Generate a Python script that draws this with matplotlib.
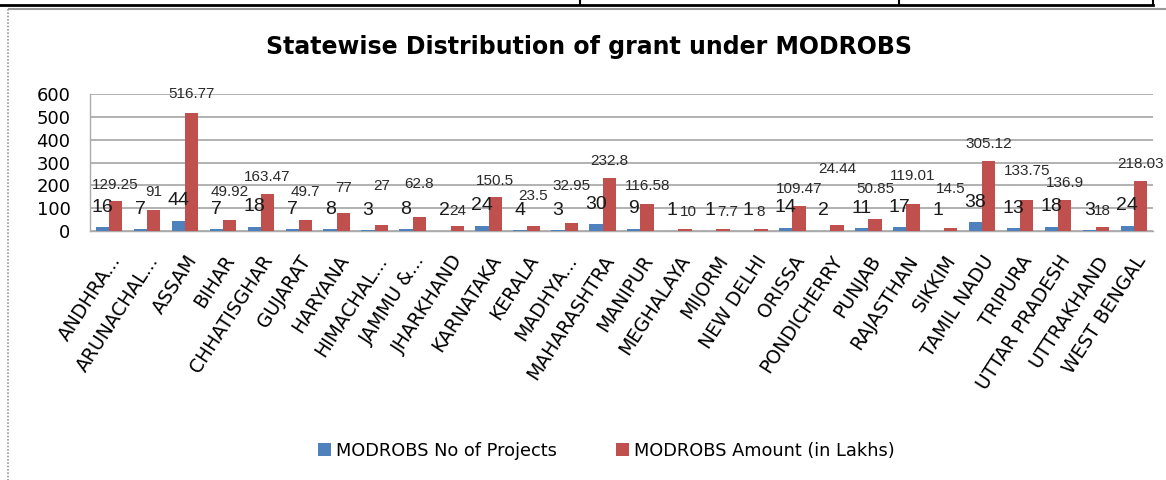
#!/usr/bin/env python

""" statewise distribution of grant under MODROBS """

import matplotlib
matplotlib.use("Agg")
import matplotlib.pyplot as plt
from matplotlib.lines import Line2D
import numpy as np

states = ["ANDHRA...", "ARUNACHAL...", "ASSAM", "BIHAR", "CHHATISGHAR", "GUJARAT",
          "HARYANA", "HIMACHAL...", "JAMMU &...", "JHARKHAND", "KARNATAKA", "KERALA",
          "MADHYA...", "MAHARASHTRA", "MANIPUR", "MEGHALAYA", "MIJORM", "NEW DELHI",
          "ORISSA", "PONDICHERRY", "PUNJAB", "RAJASTHAN", "SIKKIM", "TAMIL NADU",
          "TRIPURA", "UTTAR PRADESH", "UTTRAKHAND", "WEST BENGAL"]
projects = [16, 7, 44, 7, 18, 7, 8, 3, 8, 2, 24, 4, 3, 30, 9, 1, 1, 1, 14, 2,
            11, 17, 1, 38, 13, 18, 3, 24]
amounts = [129.25, 91, 516.77, 49.92, 163.47, 49.7, 77, 27, 62.8, 24, 150.5,
           23.5, 32.95, 232.8, 116.58, 10, 7.7, 8, 109.47, 24.44, 50.85, 119.01,
           14.5, 305.12, 133.75, 136.9, 18, 218.03]
amount_text = ["129.25", "91", "516.77", "49.92", "163.47", "49.7", "77", "27",
               "62.8", "24", "150.5", "23.5", "32.95", "232.8", "116.58", "10",
               "7.7", "8", "109.47", "24.44", "50.85", "119.01", "14.5",
               "305.12", "133.75", "136.9", "18", "218.03"]

# label lift above the red bars (data units), as placed by hand in the original
amount_lift = [55, 62, 66, 103, 56, 103, 95, 153, 125, 46, 50, 112, 147, 56, 63,
               56, 58, 58, 57, 230, 115, 104, 151, 59, 111, 56, 52, 58]
# small sideways shift of a few red labels (category units)
amount_nudge = [0] * 15 + [0.08, 0.12] + [0] * 11
project_lift = 68

BLUE = "#4F81BD"
RED = "#C0504D"
GRID = "#ABABAB"


def main():
    """ main body """
    fig = plt.figure(figsize=(11.66, 4.8), dpi=100)
    ax = fig.add_axes([90 / 1166, 1 - 231 / 480, 1063 / 1166, 137 / 480])

    x = np.arange(len(states))
    w = 0.35
    ax.bar(x - w / 2, projects, w, color=BLUE, label="MODROBS No of Projects", zorder=3)
    ax.bar(x + w / 2, amounts, w, color=RED, label="MODROBS Amount (in Lakhs)", zorder=3)

    for i in range(len(states)):
        ax.text(x[i] - w / 2, projects[i] + project_lift, str(projects[i]),
                ha="center", va="baseline", fontsize=14,
                family="Liberation Sans", color="#1a1a1a", zorder=5)
        ax.text(x[i] + w / 2 + amount_nudge[i], amounts[i] + amount_lift[i],
                amount_text[i], ha="center", va="baseline", fontsize=11,
                family="Liberation Sans", color="#2a2a2a", zorder=5)

    ax.set_xlim(-0.5, len(states) - 0.5)
    ax.set_ylim(0, 600)
    ax.set_yticks(range(0, 601, 100))
    ax.yaxis.grid(True, color=GRID, linewidth=1.3, zorder=0)
    ax.tick_params(axis="both", length=0)
    ax.tick_params(axis="y", labelsize=13, pad=14)
    for s in ["top", "right"]:
        ax.spines[s].set_visible(False)
    for s in ["left", "bottom"]:
        ax.spines[s].set_color(GRID)
        ax.spines[s].set_linewidth(1.0)

    ax.set_xticks(x)
    ax.set_xticklabels(states, rotation=57, ha="right", va="top",
                       rotation_mode="anchor", fontsize=13.5)
    ax.tick_params(axis="x", pad=15)

    fig.text(0.505, 1 - 47 / 480, "Statewise Distribution of grant under MODROBS",
             ha="center", va="center", fontsize=17, fontweight="bold")

    fig.legend(loc="center", bbox_to_anchor=(0.52, 1 - 451 / 480), ncol=2,
               frameon=False, fontsize=12.8, handlelength=0.75, handleheight=0.75,
               handletextpad=0.3, columnspacing=3.3)

    # page decoration: table border above and chart frame
    fig.add_artist(Line2D([0, 1153 / 1166], [1 - 5 / 480, 1 - 5 / 480],
                          color="black", linewidth=2, transform=fig.transFigure))
    for xv in [580, 899, 1153]:
        fig.add_artist(Line2D([xv / 1166, xv / 1166], [1, 1 - 5 / 480],
                              color="black", linewidth=1.5, transform=fig.transFigure))
    fig.add_artist(Line2D([9 / 1166, 1], [1 - 9 / 480, 1 - 9 / 480],
                          color="#999999", linewidth=1.5, transform=fig.transFigure))
    fig.add_artist(Line2D([8 / 1166, 8 / 1166], [1 - 9 / 480, 0],
                          color="#999999", linewidth=1.2, linestyle=(0, (1, 1)),
                          transform=fig.transFigure))

    fig.savefig("out.png", dpi=100)
    plt.close(fig)


if __name__ == "__main__":
    main()
